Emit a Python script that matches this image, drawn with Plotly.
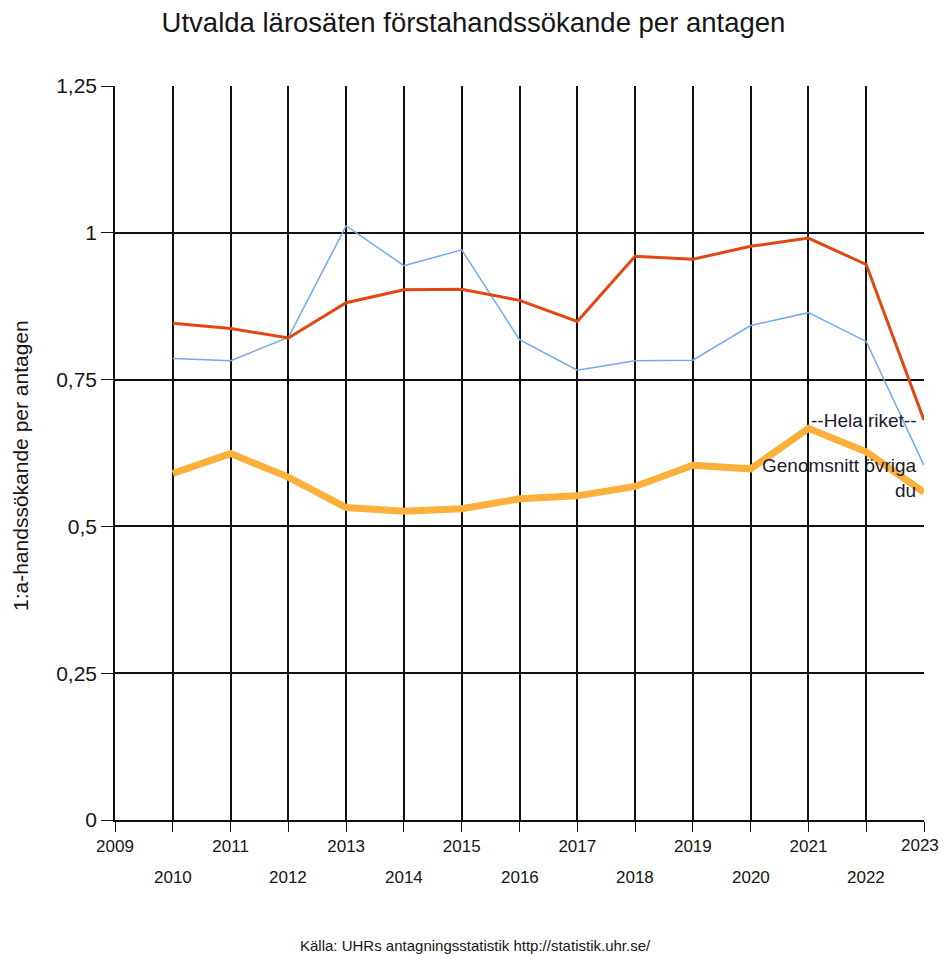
import plotly.graph_objects as go

years = list(range(2010, 2024))
hela_riket = [0.846, 0.837, 0.821, 0.881, 0.903, 0.904, 0.885, 0.849, 0.960, 0.955, 0.977, 0.991, 0.946, 0.681]
genomsnitt_ovriga = [0.786, 0.782, 0.822, 1.012, 0.944, 0.971, 0.818, 0.766, 0.782, 0.783, 0.842, 0.864, 0.815, 0.604]
utvalt = [0.590, 0.624, 0.584, 0.532, 0.526, 0.530, 0.547, 0.552, 0.568, 0.604, 0.598, 0.667, 0.627, 0.558]

tick_years = list(range(2009, 2024))
last_year = tick_years[-1]
odd_text = [str(y) if (y % 2 == 1 and y != last_year) else "" for y in tick_years]
even_years = [y for y in tick_years if y % 2 == 0]
y_ticks = [0, 0.25, 0.5, 0.75, 1, 1.25]
y_text = ["0", "0,25", "0,5", "0,75", "1", "1,25"]

FONT = "Liberation Sans, Arial, sans-serif"
TXT = "#161616"

W, H = 932, 946

fig = go.Figure()
fig.add_trace(go.Scatter(x=years, y=utvalt, mode="lines",
                         line=dict(color="#fbb03b", width=7), name="Utvalt",
                         showlegend=False))
fig.add_trace(go.Scatter(x=years, y=genomsnitt_ovriga, mode="lines",
                         line=dict(color="#72aaf2", width=1.5), name="Genomsnitt övriga du",
                         showlegend=False))
fig.add_trace(go.Scatter(x=years, y=hela_riket, mode="lines",
                         line=dict(color="#e2470f", width=3), name="--Hela riket--",
                         showlegend=False))

fig.add_annotation(x=years[-1], y=hela_riket[-1], xref="x", yref="y",
                   text="--Hela riket--", showarrow=False, xanchor="right",
                   yanchor="middle", xshift=-5,
                   font=dict(family=FONT, size=19, color="#1c1c30"))
fig.add_annotation(x=years[-1], y=genomsnitt_ovriga[-1], xref="x", yref="y",
                   text="Genomsnitt övriga<br>du", showarrow=False, xanchor="right",
                   yanchor="top", align="right", xshift=-5, yshift=12,
                   font=dict(family=FONT, size=19, color="#1c1c30"))

for y in even_years:
    fig.add_annotation(x=y, y=0, xref="x", yref="paper", text=str(y),
                       showarrow=False, xanchor="center", yanchor="middle",
                       yshift=-57, font=dict(family=FONT, size=17, color=TXT))
# last odd year label, kept inside the visible page edge
fig.add_annotation(x=last_year, y=0, xref="x", yref="paper", text=str(last_year),
                   showarrow=False, xanchor="right", yanchor="middle",
                   xshift=16, yshift=-25, borderpad=0,
                   font=dict(family=FONT, size=17, color=TXT))

fig.add_annotation(x=0, y=0.5, xref="paper", yref="paper", textangle=-90,
                   text="1:a-handssökande per antagen", showarrow=False,
                   xanchor="center", yanchor="middle", xshift=-95, yshift=-13,
                   font=dict(family=FONT, size=21, color=TXT))

fig.add_annotation(x=0.5, y=0, xref="paper", yref="paper", yanchor="middle",
                   xshift=-44, yshift=-125,
                   text="Källa: UHRs antagningsstatistik http://statistik.uhr.se/",
                   showarrow=False, font=dict(family=FONT, size=15, color=TXT))

fig.update_layout(
    width=W, height=H,
    paper_bgcolor="white", plot_bgcolor="white",
    margin=dict(l=107, r=W - (924 - 8), t=78, b=H - (820 - 8)),
    title=dict(text="Utvalda lärosäten förstahandssökande per antagen",
               xref="container", x=(473.5 - 8) / W, xanchor="center",
               yref="container", y=1 - 14 / H, yanchor="middle",
               font=dict(family=FONT, size=27.5, color=TXT)),
    font=dict(family=FONT, color=TXT),
)
fig.update_xaxes(range=[2009, 2023], tickvals=tick_years, ticktext=odd_text,
                 showgrid=True, gridcolor="#111", gridwidth=1.5,
                 showline=True, linecolor="#111", linewidth=1.5,
                 ticks="outside", ticklen=10, tickcolor="#111", tickwidth=1.2,
                 tickfont=dict(family=FONT, size=17, color=TXT),
                 zeroline=False, fixedrange=True, automargin=False)
fig.update_yaxes(range=[0, 1.25], tickvals=y_ticks, ticktext=y_text,
                 showgrid=True, gridcolor="#111", gridwidth=1.5,
                 showline=True, linecolor="#111", linewidth=1.5,
                 ticks="outside", ticklen=12, tickcolor="#111", tickwidth=1.2,
                 tickfont=dict(family=FONT, size=21, color=TXT),
                 zeroline=False, fixedrange=True, automargin=False)

fig.write_html("out.html")
